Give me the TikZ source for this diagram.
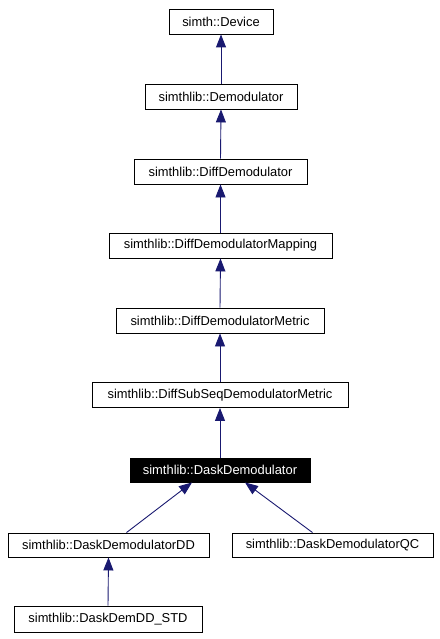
\documentclass[tikz,border=0pt]{standalone}
\usepackage{fontspec}
\setmainfont{Liberation Sans}
\usetikzlibrary{arrows.meta}
\definecolor{edgeblue}{HTML}{191970}
\begin{document}
\begin{tikzpicture}[x=1pt,y=-1pt,
  cls/.style={draw=black,line width=0.9pt,fill=white,inner sep=0pt,minimum height=25pt,font=\fontsize{12.9}{14}\selectfont},
  cur/.style={cls,fill=black,text=white},
  inh/.style={draw=edgeblue,line width=0.9pt,{Triangle[length=13pt,width=10pt,fill=edgeblue]}-}]
\useasboundingbox (0,0) rectangle (439,639);
\node[cls,minimum width=104pt] (dev) at (221,21.5) {simth::Device};
\node[cls,minimum width=152pt] (dem) at (221,96.5) {simthlib::Demodulator};
\node[cls,minimum width=173pt] (dif) at (220.5,171.5) {simthlib::DiffDemodulator};
\node[cls,minimum width=223pt] (map) at (220.5,245.5) {simthlib::DiffDemodulatorMapping};
\node[cls,minimum width=208pt] (met) at (220,320.5) {simthlib::DiffDemodulatorMetric};
\node[cls,minimum width=256pt] (sub) at (220,395) {simthlib::DiffSubSeqDemodulatorMetric};
\node[cur,minimum width=180pt,minimum height=24pt] (dask) at (220,470) {simthlib::DaskDemodulator};
\node[cls,minimum width=201pt,minimum height=24pt] (dd) at (108.5,545) {simthlib::DaskDemodulatorDD};
\node[cls,minimum width=201pt,minimum height=24pt] (qc) at (332.5,545) {simthlib::DaskDemodulatorQC};
\node[cls,minimum width=188pt,minimum height=26pt] (std) at (108,619) {simthlib::DaskDemDD\_STD};
\draw[inh] (dev.south) -- (dem.north);
\draw[inh] (dem.south) -- (dif.north);
\draw[inh] (dif.south) -- (map.north);
\draw[inh] (map.south) -- (met.north);
\draw[inh] (met.south) -- (sub.north);
\draw[inh] (sub.south) -- (dask.north);
\draw[inh] ([xshift=-28pt]dask.south) -- ([xshift=18pt]dd.north);
\draw[inh] ([xshift=25pt]dask.south) -- ([xshift=-20pt]qc.north);
\draw[inh] (dd.south) -- (std.north);
\end{tikzpicture}
\end{document}
